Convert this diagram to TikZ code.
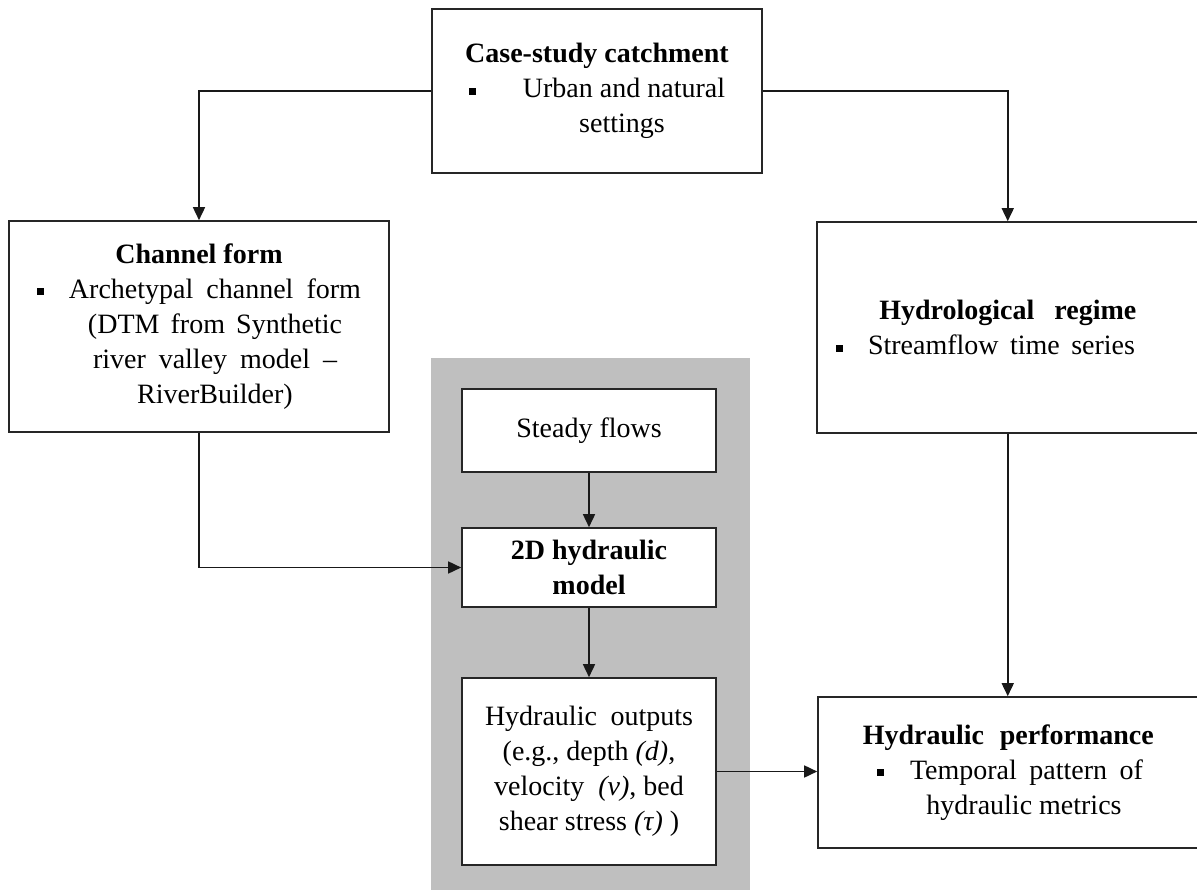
\documentclass[tikz,border=0pt]{standalone}
\usepackage{fontspec}
\setmainfont{Liberation Serif}
\usetikzlibrary{arrows.meta}
\newcommand{\sqb}{\rule[3pt]{7pt}{7pt}}
\begin{document}
\begin{tikzpicture}[x=1pt,y=-1pt,
  box/.style={draw=black!85, line width=1.6pt, fill=white, inner sep=0pt, align=center,
    font=\fontsize{28}{35}\selectfont},
  grayband/.style={fill=black!25, draw=none, inner sep=0pt},
  arr/.style={draw=black!90, line width=1.6pt, -{Triangle[length=13pt,width=12pt]}}]
\useasboundingbox (0,0) rectangle (1197,890);
% grey band
\node[grayband, minimum width=319pt, minimum height=534pt] (band) at (590.5,625) {};
% boxes
\node[box, minimum width=330pt, minimum height=164pt] (case) at (597,91)
  {\textbf{Case-study catchment}\\
   \hspace*{54pt}\llap{\sqb\hspace{47pt}}Urban and natural\\
   \hspace*{50pt}settings};
\node[box, minimum width=380pt, minimum height=211pt] (channel) at (199,326.5)
  {\textbf{Channel form}\\
   \hspace*{32pt}\llap{\sqb\hspace{25pt}}\makebox[292pt][s]{Archetypal channel form}\\
   \hspace*{32pt}\makebox[254pt][s]{(DTM from Synthetic}\\
   \hspace*{32pt}\makebox[244pt][s]{river valley model –}\\
   \hspace*{32pt}RiverBuilder)};
\node[box, minimum width=381.5pt, minimum height=211pt] (hydro) at (1007.75,327.5)
  {\makebox[257pt][s]{\textbf{Hydrological regime}}\\
   \hspace*{-12.5pt}\llap{\sqb\hspace{25pt}}\makebox[267pt][s]{Streamflow time series}};
\node[box, minimum width=254pt, minimum height=83pt] (steady) at (589,430.5)
  {Steady flows};
\node[box, minimum width=254pt, minimum height=79pt] (twoD) at (589,567.5)
  {\textbf{2D hydraulic}\\ \textbf{model}};
\node[box, minimum width=254pt, minimum height=187pt] (outputs) at (589,771.5)
  {\makebox[208pt][s]{Hydraulic outputs}\\
   (e.g., depth \textit{(d)},\\
   velocity \ \textit{(v)}, bed\\
   shear stress \textit{(τ)} )};
\node[box, minimum width=380.5pt, minimum height=151pt] (perf) at (1008.25,772.5)
  {\makebox[291pt][s]{\textbf{Hydraulic performance}}\\
   \hspace*{36.5pt}\llap{\sqb\hspace{26pt}}\makebox[233pt][s]{Temporal pattern of}\\
   \hspace*{31.5pt}hydraulic metrics};
% connectors
\draw[arr] (case.west) -| (channel.north);
\draw[arr] (case.east) -| (hydro.north);
\draw[arr] (channel.south) |- (twoD.west);
\draw[arr] (steady.south) -- (twoD.north);
\draw[arr] (twoD.south) -- (outputs.north);
\draw[arr] (hydro.south) -- (hydro.south |- perf.north);
\draw[arr] (outputs.east) -- (outputs.east -| perf.west);
\end{tikzpicture}
\end{document}
